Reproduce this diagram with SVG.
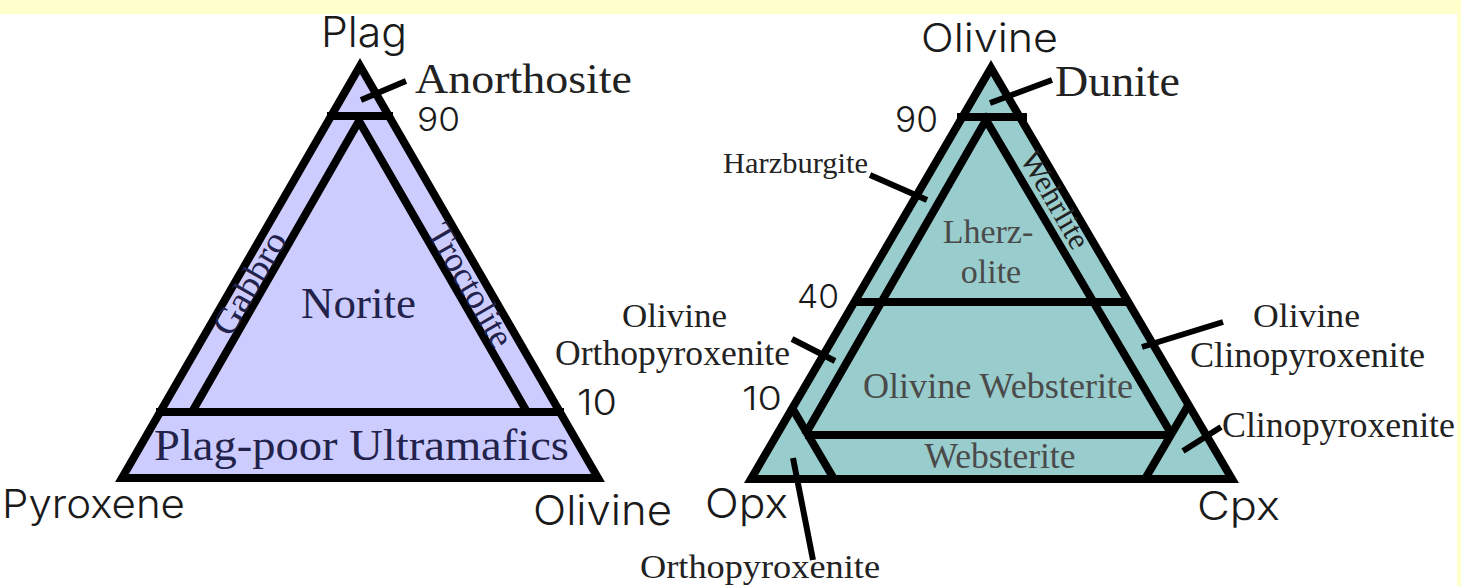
<svg xmlns="http://www.w3.org/2000/svg" width="1461" height="586" viewBox="0 0 1461 586">
<style>
.bg{fill:#ffffff}
.band{fill:#ffffcc}
.edge{stroke:#000;stroke-width:8;stroke-linejoin:miter;stroke-miterlimit:10}
.open{fill:none}
.fillL{fill:#ccccff}
.fillR{fill:#99cccc}
.ln{stroke:#000;stroke-width:8;fill:none}
.lead{stroke:#000;stroke-width:6;fill:none}
.sans{font-family:Inter,"Liberation Sans",Arial,sans-serif;font-weight:300;fill:#1a1a1a}
.serif{font-family:"Liberation Serif","Times New Roman",serif;fill:#222}
.inL{fill:#22224a}
.inR{fill:#4a4a4a}
</style>
<rect class="bg" x="0" y="0" width="1461" height="586"/>
<rect class="band" x="0" y="0" width="1461" height="14"/>
<rect class="band" x="1457" y="0" width="4" height="586"/>

<g id="left-triangle">
  <polygon points="360,66 122,478 598,478" class="edge fillL"/>
  <line class="ln" x1="327" y1="116" x2="393" y2="116"/>
  <line class="ln" x1="156" y1="412" x2="564" y2="412"/>
  <path class="edge open" d="M192,412 L359,121 L527,412"/>
  <text class="serif inL" x="358.5" y="318" font-size="45" text-anchor="middle">Norite</text>
  <text class="serif inL" x="154" y="460" font-size="45" textLength="415" lengthAdjust="spacingAndGlyphs">Plag-poor Ultramafics</text>
  <g transform="translate(249,283) rotate(-60)">
    <text class="serif inL" x="0" y="12" font-size="35" text-anchor="middle" textLength="114" lengthAdjust="spacingAndGlyphs">Gabbro</text>
  </g>
  <g transform="translate(471,285) rotate(60)">
    <text class="serif inL" x="0" y="12" font-size="35" text-anchor="middle" textLength="137" lengthAdjust="spacingAndGlyphs">Troctolite</text>
  </g>
</g>

<g id="right-triangle">
  <polygon points="991,68 751,479 1232,479" class="edge fillR"/>
  <line class="ln" x1="957" y1="117" x2="1027" y2="117"/>
  <path class="edge open" d="M805,435 L986,120 L1172,435"/>
  <line class="ln" x1="852" y1="302" x2="1130" y2="302"/>
  <line class="ln" x1="805" y1="435" x2="1172" y2="435"/>
  <line class="ln" x1="791" y1="406" x2="834" y2="479"/>
  <line class="ln" x1="1189" y1="404" x2="1145" y2="479"/>
  <text class="serif inR" x="988" y="243" font-size="34" text-anchor="middle">Lherz-</text>
  <text class="serif inR" x="991" y="283" font-size="34" text-anchor="middle">olite</text>
  <text class="serif inR" x="998" y="398" font-size="35" text-anchor="middle" textLength="270" lengthAdjust="spacingAndGlyphs">Olivine Websterite</text>
  <text class="serif inR" x="1000" y="468" font-size="35" text-anchor="middle" textLength="151" lengthAdjust="spacingAndGlyphs">Websterite</text>
  <g transform="translate(1055,200) rotate(60)">
    <text class="serif" x="0" y="10" font-size="31" text-anchor="middle" textLength="108" lengthAdjust="spacingAndGlyphs">Wehrlite</text>
  </g>
</g>

<g id="connectors">
  <line class="lead" x1="361" y1="100" x2="406" y2="81"/>
  <line class="lead" x1="990" y1="103" x2="1052" y2="80"/>
  <line class="lead" x1="870" y1="175" x2="927" y2="200"/>
  <line class="lead" x1="792" y1="339" x2="835" y2="361"/>
  <line class="lead" x1="1142" y1="347" x2="1223" y2="322"/>
  <line class="lead" x1="1183" y1="451" x2="1221" y2="427"/>
  <line class="lead" x1="793" y1="458" x2="813" y2="560"/>
</g>

<g id="labels">
  <text class="sans" x="321" y="47" font-size="42" textLength="86" lengthAdjust="spacingAndGlyphs">Plag</text>
  <text class="sans" x="921" y="52" font-size="40" textLength="137" lengthAdjust="spacingAndGlyphs">Olivine</text>
  <text class="sans" x="417" y="131" font-size="33" textLength="43" lengthAdjust="spacingAndGlyphs">90</text>
  <text class="sans" x="577" y="415" font-size="35" textLength="40" lengthAdjust="spacingAndGlyphs">10</text>
  <text class="sans" x="2" y="518" font-size="39" textLength="183" lengthAdjust="spacingAndGlyphs">Pyroxene</text>
  <text class="sans" x="533" y="525" font-size="41" textLength="139" lengthAdjust="spacingAndGlyphs">Olivine</text>
  <text class="sans" x="895" y="132" font-size="35" textLength="43" lengthAdjust="spacingAndGlyphs">90</text>
  <text class="sans" x="797" y="308" font-size="33" textLength="42" lengthAdjust="spacingAndGlyphs">40</text>
  <text class="sans" x="742" y="410" font-size="33" textLength="40" lengthAdjust="spacingAndGlyphs">10</text>
  <text class="sans" x="705" y="518" font-size="41" textLength="83" lengthAdjust="spacingAndGlyphs">Opx</text>
  <text class="sans" x="1197" y="520" font-size="39" textLength="83" lengthAdjust="spacingAndGlyphs">Cpx</text>

  <text class="serif" x="415" y="93" font-size="42" textLength="217" lengthAdjust="spacingAndGlyphs">Anorthosite</text>
  <text class="serif" x="1055" y="96" font-size="44" textLength="125" lengthAdjust="spacingAndGlyphs">Dunite</text>
  <text class="serif" x="723" y="173" font-size="29" textLength="145" lengthAdjust="spacingAndGlyphs">Harzburgite</text>
  <text class="serif" x="622" y="327" font-size="34" textLength="105" lengthAdjust="spacingAndGlyphs">Olivine</text>
  <text class="serif" x="555" y="365" font-size="35" textLength="235" lengthAdjust="spacingAndGlyphs">Orthopyroxenite</text>
  <text class="serif" x="1253" y="327" font-size="34" textLength="107" lengthAdjust="spacingAndGlyphs">Olivine</text>
  <text class="serif" x="1190" y="367" font-size="35" textLength="235" lengthAdjust="spacingAndGlyphs">Clinopyroxenite</text>
  <text class="serif" x="1222" y="437" font-size="35" textLength="233" lengthAdjust="spacingAndGlyphs">Clinopyroxenite</text>
  <text class="serif" x="640" y="578" font-size="34" textLength="240" lengthAdjust="spacingAndGlyphs">Orthopyroxenite</text>
</g>
</svg>
